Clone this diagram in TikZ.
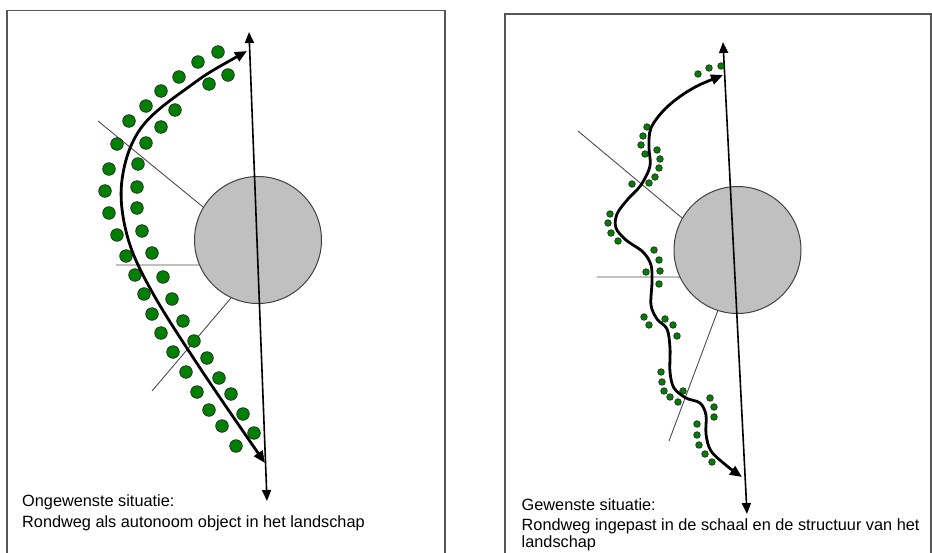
\documentclass[tikz,border=0pt]{standalone}
\usepackage{fontspec}
\setmainfont{Liberation Sans}
\usetikzlibrary{arrows.meta}
\definecolor{stadcol}{RGB}{192,192,192}
\definecolor{boomcol}{RGB}{0,128,0}
\definecolor{kadercol}{RGB}{85,85,85}

\begin{document}
\begin{tikzpicture}[
			x=1pt, y=-1pt,
			kader/.style={
				draw=kadercol,
				line width=1.3pt
			},
			stad/.style={
				circle,
				draw=black!75,
				line width=1pt,
				fill=stadcol,
				minimum size=127pt,
				inner sep=0pt
			},
			straal/.style={
				draw=black!70,
				line width=0.9pt
			},
			as/.style={
				draw=black,
				line width=1.6pt,
				{Triangle[length=11pt,width=9pt]}-{Triangle[length=11pt,width=9pt]}
			},
			weg/.style={
				draw=black,
				line width=2.8pt,
				{Triangle[length=12pt,width=10pt]}-{Triangle[length=12pt,width=10pt]}
			},
			boom/.style={
				draw=black!85,
				fill=boomcol,
				line width=0.7pt
			},
			bijschrift/.style={
				anchor=base west,
				inner sep=0pt,
				font=\fontsize{16.3pt}{19pt}\selectfont
			}
			]
			\useasboundingbox (0,0) rectangle (932,552);
			\clip (0,0) rectangle (932,552);
			
			% Frames
			\draw[kader] (7,10.5) rectangle (445,580);
			\draw[kader] (505,14) rectangle (931,580);
			
			% Towns
			\node[stad] (stadL) at (258,240) {};
			\node[stad] (stadR) at (737.5,250) {};
			
			% Left: sight lines and axis
			\coordinate (sL1) at (98,121);
			\coordinate (sL2) at (116,265);
			\coordinate (sL3) at (152,391);
			\draw[straal] (sL1) -- (stadL.149);
			\draw[straal] (sL2) -- (stadL.203);
			\draw[straal] (sL3) -- (stadL.245);
			\coordinate (asL1) at (249,32);
			\coordinate (asL2) at (267,501);
			\draw[as] (asL1) -- (asL2);
			
			% Left: trees
			\foreach \x/\y in {218/52, 198/62, 179/77, 161/91, 146/106, 129/121,
				117/144, 109/169, 105/191, 109/213, 117/235, 126/256, 135/275,
				144/294, 152/314, 161/333, 173/352, 186/372, 197/392, 209/410,
				222/426, 236/446,
				228/75, 209/84, 175/110, 161/127, 146/143, 138/164, 137/187,
				137/208, 142/231, 152/253, 163/277, 172/299, 183/321, 194/341,
				207/358, 219/378, 231/394, 243/414, 254/433}
				\draw[boom] (\x,\y) circle[radius=6.3pt];
			
			% Left: road
			\draw[weg] plot[smooth, tension=0.6] coordinates {(247,51) (190,86)
				(141,128) (122,180) (127,235) (151,290) (200,368) (265,463)};
			
			% Right: sight lines and axis
			\coordinate (sR1) at (578,131);
			\coordinate (sR2) at (597,277);
			\coordinate (sR3) at (669,441);
			\draw[straal] (sR1) -- (stadR.150);
			\draw[straal] (sR2) -- (stadR.205);
			\draw[straal] (sR3) -- (stadR.252);
			\coordinate (asR1) at (723,42);
			\coordinate (asR2) at (747,514);
			\draw[as] (asR1) -- (asR2);
			
			% Right: trees
			\foreach \x/\y in {698/74, 709/68, 721/66,
				647/127, 643/136, 641/145, 645/154,
				657/150, 660/159, 659/168, 655/177, 649/183, 632/184,
				610/214, 608/223, 611/233, 618/241,
				654/250, 659/260, 660/271, 646/272, 659/284,
				644/317, 649/325, 665/319, 673/325, 677/336,
				661/372, 662/382, 664/391, 670/397, 678/402, 683/391,
				710/398, 714/407, 714/417,
				697/424, 697/435, 699/445, 705/454, 712/462}
				\draw[boom] (\x,\y) circle[radius=3.3pt];
			
			% Right: road
			\draw[weg] plot[smooth, tension=0.55] coordinates {(723,75)
				(690,90) (666,108) (651,128) (649,148) (650,166) (641,185)
				(628,199) (617,214) (616,228) (626,240) (643,252) (651,265)
				(652,282) (651,305) (657,319) (667,329) (670,348) (670,372)
				(674,388) (686,398) (700,403) (706,415) (706,434) (711,451)
				(727,466) (742,477)};
			
			% Captions
			\node[bijschrift] (tekstL1) at (22,506.7) {Ongewenste situatie:};
			\node[bijschrift] (tekstL2) at (22,527.7) {Rondweg als autonoom object in het landschap};
			\node[bijschrift] (tekstR1) at (521.5,510.5) {Gewenste situatie:};
			\node[bijschrift] (tekstR2) at (521.5,530) {Rondweg ingepast in de schaal en de structuur van het};
			\node[bijschrift] (tekstR3) at (521.5,547.8) {landschap};
		\end{tikzpicture}
\end{document}
